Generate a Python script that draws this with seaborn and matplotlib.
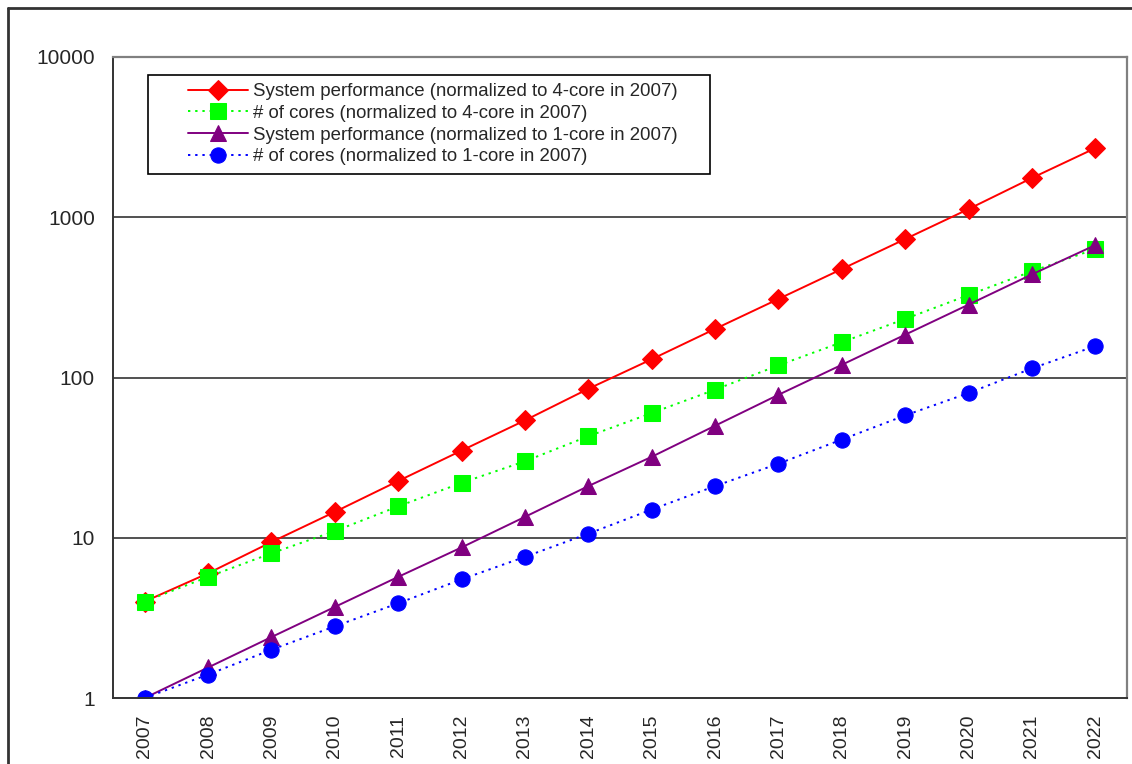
import seaborn as sns
import matplotlib.pyplot as plt
import pandas as pd
from matplotlib.patches import Rectangle
from matplotlib.lines import Line2D

# data
years = [str(y) for y in range(2007, 2023)]
perf_4core = [4, 6.0, 9.4, 14.5, 22.6, 35, 54, 85, 130, 201, 309, 475, 731, 1125, 1758, 2700]
cores_4core = [4, 5.7, 8, 11, 15.7, 22, 30, 43, 60, 84, 119, 166, 232, 327, 460, 634]
perf_1core = [1, 1.55, 2.4, 3.7, 5.7, 8.7, 13.5, 21, 32, 50, 78, 120, 185, 285, 440, 670]
cores_1core = [1, 1.4, 2, 2.8, 3.9, 5.5, 7.6, 10.6, 15, 21, 29, 41, 58, 80, 114, 157]

labels = [
    "System performance (normalized to 4-core in 2007)",
    "# of cores (normalized to 4-core in 2007)",
    "System performance (normalized to 1-core in 2007)",
    "# of cores (normalized to 1-core in 2007)",
]
series = [perf_4core, cores_4core, perf_1core, cores_1core]
colors = ["#FF0000", "#00FF00", "#800080", "#0000FF"]
markers = ["D", "s", "^", "o"]
styles = ["-", (0, (1.2, 2.5)), "-", (0, (1.2, 2.5))]
msizes = [10, 11, 12, 11]

sns.set_style("white")
plt.rcParams["font.family"] = ["Liberation Sans", "DejaVu Sans"]

fig = plt.figure(figsize=(11.32, 7.64), dpi=100)
ax = fig.add_axes([113 / 1132, 1 - 698 / 764, 1014 / 1132, 641 / 764])

xpos = list(range(len(years)))
for lab, vals, c, m, ls, ms in zip(labels, series, colors, markers, styles, msizes):
    df = pd.DataFrame({"x": xpos, "y": vals})
    sns.lineplot(data=df, x="x", y="y", ax=ax, color=c, marker=m, markersize=ms,
                 markeredgecolor=c, linestyle=ls, linewidth=1.4, label=lab)

ax.set_yscale("log")
ax.set_ylim(1, 10000)
ax.set_xlim(-0.5, len(years) - 0.5)
ax.set_yticks([1, 10, 100, 1000, 10000])
ax.set_yticklabels(["1", "10", "100", "1000", "10000"])
ax.yaxis.set_minor_locator(plt.NullLocator())
ax.set_xticks(xpos)
ax.set_xticklabels(years, rotation=90)
ax.set_xticks([x - 0.5 for x in range(len(years) + 1)], minor=True)
ax.tick_params(axis="x", which="major", length=0, pad=12, labelsize=14)
ax.tick_params(axis="x", which="minor", length=7, width=1.2, color="#333333", direction="out")
ax.tick_params(axis="y", length=7, width=1.2, color="#333333", direction="out", labelsize=15, pad=6)
ax.set_xlabel("")
ax.set_ylabel("")

for yv in [10, 100, 1000]:
    ax.axhline(yv, color="#333333", linewidth=1.2, zorder=0)

for s in ["left", "bottom"]:
    ax.spines[s].set_color("#333333")
    ax.spines[s].set_linewidth(1.4)
for s in ["top", "right"]:
    ax.spines[s].set_color("#808080")
    ax.spines[s].set_linewidth(1.6)

# legend with Excel-like box
ax.legend_.remove()
ax.add_patch(Rectangle((35 / 1014, (698 - 174) / 641), 562 / 1014, 99 / 641,
                       transform=ax.transAxes, fill=True, facecolor="white",
                       edgecolor="black", linewidth=1.2, zorder=5))
h, l = ax.get_legend_handles_labels()
leg = ax.legend(h, l, loc="upper left", bbox_to_anchor=(66 / 1014, 1 - (74 - 57) / 641),
                frameon=False, borderpad=0, fontsize=13.4, handlelength=3.2,
                handletextpad=0.25, labelspacing=0.25)
leg.set_zorder(6)

# outer chart frame
fig.add_artist(Line2D([8 / 1132, 1.0], [1 - 8 / 764, 1 - 8 / 764],
                      transform=fig.transFigure, color="#333333", linewidth=2))
fig.add_artist(Line2D([8 / 1132, 8 / 1132], [0, 1 - 8 / 764],
                      transform=fig.transFigure, color="#333333", linewidth=2))

fig.savefig("out.png", dpi=100)
